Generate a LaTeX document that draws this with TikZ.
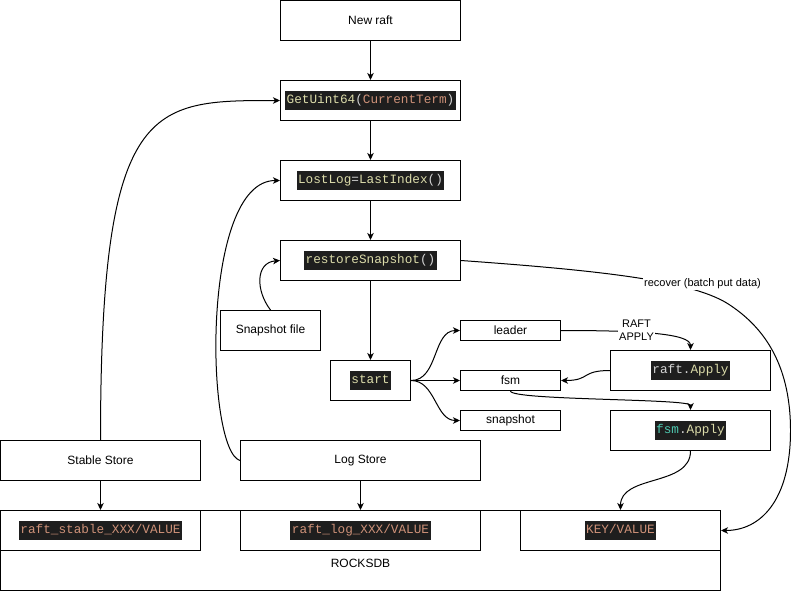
\documentclass[tikz,border=0pt]{standalone}
\usepackage{fontspec}
\setmainfont{Liberation Sans}
\newfontfamily\codefont{Liberation Mono}
\usetikzlibrary{arrows.meta}
\definecolor{codebg}{HTML}{1E1E1E}
\definecolor{cyel}{HTML}{DCDCAA}
\definecolor{corg}{HTML}{CE9178}
\definecolor{cteal}{HTML}{4EC9B0}
\definecolor{clight}{HTML}{D4D4D4}
\begin{document}
\begin{tikzpicture}[x=1pt,y=-1pt,line width=1pt,
  box/.style={draw,line width=1pt,inner sep=0pt,font=\fontsize{12}{14}\selectfont},
  code/.style={fill=codebg,inner xsep=1.5pt,inner ysep=0pt,minimum height=19pt,text height=9pt,text depth=3pt,font=\codefont\fontsize{12.7}{14}\selectfont},
  lbl/.style={fill=white,inner sep=1pt,align=center,font=\fontsize{11}{13}\selectfont},
  arr/.style={line width=1pt,-{Stealth[length=7pt,width=6.5pt,inset=2pt]}}]
\useasboundingbox (-0.5,-0.5) rectangle (790.5,590.5);
% boxes
\node[box,minimum width=180pt,minimum height=40pt] (newraft) at (370,20) {New raft};
\node[box,minimum width=180pt,minimum height=40pt] (get) at (370,100) {};
\node[box,minimum width=180pt,minimum height=40pt] (lostlog) at (370,180) {};
\node[box,minimum width=180pt,minimum height=40pt] (restore) at (370,260) {};
\node[box,minimum width=100pt,minimum height=40pt] (snapfile) at (270,330) {Snapshot file};
\node[box,minimum width=80pt,minimum height=40pt] (start) at (370,380) {};
\node[box,minimum width=100pt,minimum height=20pt] (leader) at (510,330) {leader};
\node[box,minimum width=100pt,minimum height=20pt] (fsm) at (510,380) {fsm};
\node[box,minimum width=100pt,minimum height=20pt] (snap) at (510,420) {snapshot};
\node[box,minimum width=160pt,minimum height=40pt] (rapply) at (690,370) {};
\node[box,minimum width=160pt,minimum height=40pt] (fapply) at (690,430) {};
\node[box,minimum width=200pt,minimum height=40pt] (stable) at (100,460) {Stable Store};
\node[box,minimum width=240pt,minimum height=40pt] (logstore) at (360,460) {Log Store};
\node[box,minimum width=720pt,minimum height=80pt] (rocks) at (360,550) {};
\node[font=\fontsize{12}{14}\selectfont,inner sep=0pt] (rockslbl) at (360,563) {ROCKSDB};
\node[box,minimum width=200pt,minimum height=40pt] (rstable) at (100,530) {};
\node[box,minimum width=240pt,minimum height=40pt] (rlog) at (360,530) {};
\node[box,minimum width=200pt,minimum height=40pt] (kv) at (620,530) {};
% code texts
\node[code] (tget) at (get) {\textcolor{cyel}{GetUint64}\textcolor{clight}{(}\textcolor{corg}{CurrentTerm}\textcolor{clight}{)}};
\node[code] (tlost) at (lostlog) {\textcolor{cyel}{LostLog}\textcolor{clight}{=}\textcolor{cyel}{LastIndex}\textcolor{clight}{()}};
\node[code] (trestore) at (restore) {\textcolor{cyel}{restoreSnapshot}\textcolor{clight}{()}};
\node[code] (tstart) at (start) {\textcolor{cyel}{start}};
\node[code] (trapply) at (rapply) {\textcolor{clight}{raft.}\textcolor{cyel}{Apply}};
\node[code] (tfapply) at (fapply) {\textcolor{cteal}{fsm}\textcolor{clight}{.}\textcolor{cyel}{Apply}};
\node[code] (trstable) at (rstable) {\textcolor{corg}{raft\_stable\_XXX/VALUE}};
\node[code] (trlog) at (rlog) {\textcolor{corg}{raft\_log\_XXX/VALUE}};
\node[code] (tkv) at (kv) {\textcolor{corg}{KEY/VALUE}};
% connectors
\draw[arr] (newraft.south) -- (get.north);
\draw[arr] (get.south) -- (lostlog.north);
\draw[arr] (lostlog.south) -- (restore.north);
\draw[arr] (restore.south) -- (start.north);
\draw[arr] (stable.north) .. controls (100,100) and (150,100) .. (get.west);
\draw[arr] (logstore.west) .. controls (205,450) and (200,180) .. (lostlog.west);
\draw[arr] (snapfile.north) .. controls (255,290) and (255,262) .. (restore.west);
\draw[arr] (start.east) to[out=0,in=180] (leader.west);
\draw[arr] (start.east) -- (fsm.west);
\draw[arr] (start.east) to[out=0,in=180] (snap.west);
\draw[arr] (leader.east) .. controls (640,330) and (690,333) .. (rapply.north);
\draw[arr] (rapply.west) .. controls (580,370) and (590,380) .. (fsm.east);
\draw[arr] (fsm.south) .. controls (510,400) and (690,398) .. (fapply.north);
\draw[arr] (restore.east) .. controls (600,270) and (690,280) .. (727,303)
  .. controls (760,324) and (790,360) .. (790,430)
  .. controls (790,500) and (760,530) .. (kv.east);
\draw[arr] (fapply.south) to[out=-90,in=90] (kv.north);
\draw[arr] (stable.south) -- (rstable.north);
\draw[arr] (logstore.south) -- (rlog.north);
% edge labels
\node[lbl] (lraft) at (636,330) {RAFT\\APPLY};
\node[lbl] (lrecover) at (702,283) {recover (batch put data)};
\end{tikzpicture}
\end{document}
